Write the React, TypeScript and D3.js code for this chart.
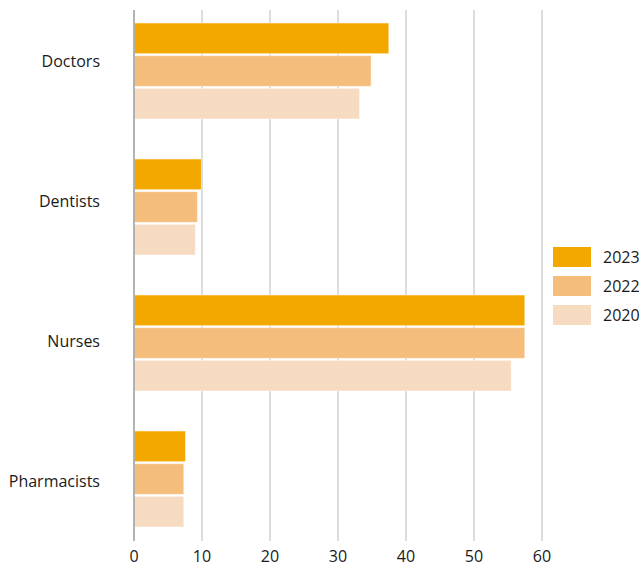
import { useEffect, useRef } from 'react';
import * as d3 from 'd3';

const categories = ['Doctors', 'Dentists', 'Nurses', 'Pharmacists'];
const years = ['2023', '2022', '2020'];
const values2023 = [37.4, 9.85, 57.4, 7.5];
const values2022 = [34.8, 9.25, 57.4, 7.25];
const values2020 = [33.1, 8.95, 55.4, 7.25];
const xTicks = [0, 10, 20, 30, 40, 50, 60];
const yearColors = ['#f3a800', '#f5bd7b', '#f7dbc1'];

const WIDTH = 642;
const HEIGHT = 568;

export default function App() {
  const svgRef = useRef<SVGSVGElement>(null);

  useEffect(() => {
    if (!svgRef.current) return;
    const svg = d3.select(svgRef.current);
    svg.selectAll('*').remove();

    const series = [values2023, values2022, values2020];

    const x = d3.scaleLinear().domain([0, 60]).range([134, 542]);

    // group bands: step ~136px, bars block ~96px
    const y = d3.scaleBand<string>()
      .domain(categories)
      .range([3, 547])
      .paddingInner(0.294)
      .paddingOuter(0.147);

    const yInner = d3.scaleBand<string>()
      .domain(years)
      .range([0, y.bandwidth()])
      .paddingInner(0.06);

    // category labels sit on their own evenly spaced rows
    const labelY = d3.scalePoint<string>().domain(categories).range([61, 481]);

    const font = '"Open Sans", "Noto Sans", sans-serif';

    // gridlines
    svg.append('g')
      .selectAll('line')
      .data(xTicks.filter(t => t !== 0))
      .join('line')
      .attr('x1', d => x(d))
      .attr('x2', d => x(d))
      .attr('y1', 10)
      .attr('y2', 541)
      .attr('stroke', '#c4c4c4')
      .attr('stroke-width', 1.2);

    // bars
    const groups = svg.append('g')
      .selectAll('g')
      .data(categories)
      .join('g')
      .attr('transform', d => 'translate(0,' + y(d) + ')');

    groups.selectAll('rect')
      .data((c, i) => years.map((yr, j) => ({ yr, j, v: series[j][i] })))
      .join('rect')
      .attr('x', x(0) + 0.5)
      .attr('y', d => yInner(d.yr) as number)
      .attr('width', d => x(d.v) - x(0))
      .attr('height', yInner.bandwidth())
      .attr('fill', d => yearColors[d.j])
      .attr('stroke', '#ffffff')
      .attr('stroke-opacity', 0.5)
      .attr('stroke-width', 1);

    // zero axis line
    svg.append('line')
      .attr('x1', x(0))
      .attr('x2', x(0))
      .attr('y1', 10)
      .attr('y2', 541)
      .attr('stroke', '#9a9a9a')
      .attr('stroke-width', 1.5);

    // category labels
    svg.append('g')
      .selectAll('text')
      .data(categories)
      .join('text')
      .attr('x', 100)
      .attr('y', d => (labelY(d) as number) + 5.5)
      .attr('text-anchor', 'end')
      .attr('font-family', font)
      .attr('font-size', 16)
      .attr('fill', '#1a1a1a')
      .text(d => d);

    // tick labels
    svg.append('g')
      .selectAll('text')
      .data(xTicks)
      .join('text')
      .attr('x', d => x(d))
      .attr('y', 562)
      .attr('text-anchor', 'middle')
      .attr('font-family', font)
      .attr('font-size', 16)
      .attr('fill', '#1a1a1a')
      .text(d => d);

    // legend
    const legend = svg.append('g')
      .selectAll('g')
      .data(years)
      .join('g')
      .attr('transform', (d, i) => 'translate(553,' + (247 + i * 29) + ')');

    legend.append('rect')
      .attr('width', 38)
      .attr('height', 20)
      .attr('fill', (d, i) => yearColors[i]);

    legend.append('text')
      .attr('x', 50)
      .attr('y', 16)
      .attr('font-family', font)
      .attr('font-size', 16)
      .attr('fill', '#1a1a1a')
      .text(d => d);
  }, []);

  return (
    <svg
      ref={svgRef}
      width={WIDTH}
      height={HEIGHT}
      style={{ position: 'absolute', left: 0, top: 0, display: 'block', background: '#ffffff' }}
    />
  );
}
